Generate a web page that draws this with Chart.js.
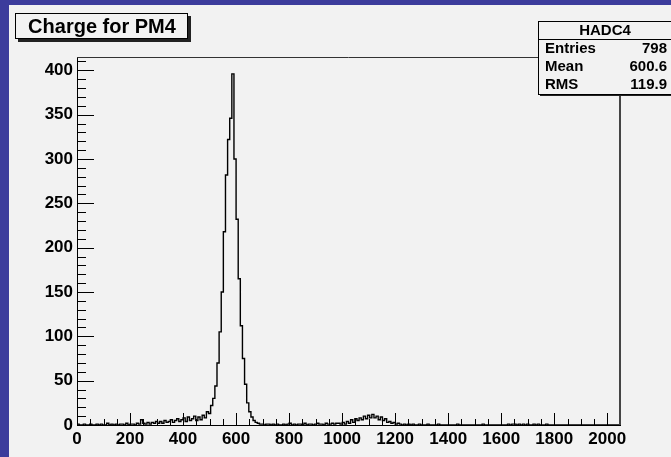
<!DOCTYPE html>
<html>
<head>
<meta charset="utf-8">
<script src="https://cdn.jsdelivr.net/npm/chart.js@4/dist/chart.umd.min.js"></script>
<style>
  html, body { margin: 0; padding: 0; background: #3c3c9c; }
  #myChart { display: block; }
</style>
</head>
<body>
<canvas id="myChart" width="671" height="457"></canvas>
<script>
// histogram HADC4, bins of 8 ADC channels from 0 to 2048
const binWidth = 8;
const xMax = 2048;
const counts = [
  // 0 - 232
  0,1,0,0,1,0,0,1,0,0, 1,0,1,0,0,2,0,1,0,1, 0,1,1,0,2,0,1,1,0,2,
  // 240 - 312
  1,6,2,1,3,1,3,2,4,2,
  // 320 - 392
  4,2,5,3,4,6,3,5,7,4,
  // 400 - 472
  6,8,4,9,5,7,10,5,9,6,
  // 480 - 696 (main peak)
  11,8,15,13,22,30,44,70,105,150, 218,282,322,346,396,300,232,165,112,75,
  46,25,15,9,5,3,2,1,
  // 704 - 992
  1,0,1,1,0,1,0,1,0,0, 1,0,1,2,0,1,0,1,1,0, 2,0,1,1,0,1,2,1,1,0, 2,1,1,2,1,2,2,
  // 1000 - 1256 (second bump)
  1,3,1,4,2,6,3,7,5,8, 6,10,7,11,8,12,8,10,6,9, 5,7,3,4,2,3,1,2,1,0, 1,0,1,
  // 1264 - 2040
  0,1,0,0,1,0,0,0,1,0, 0,0,0,1,0,0,0,0,0,0, 0,0,1,0,0,0,0,0,0,0,
  0,0,0,0,1,0,0,0,0,0, 0,0,0,0,0,0,1,0,1,1, 0,1,0,1,0,1,0,0,1,0,
  1,0,0,0,1,0,0,0,0,0, 0,0,0,0,0,0,0,0,0,0, 0,0,0,0,0,0,0,0,0,0,
  0,0,0,0,0,0,0,0
];
const xTicks = [0, 200, 400, 600, 800, 1000, 1200, 1400, 1600, 1800, 2000];
const yTicks = [0, 50, 100, 150, 200, 250, 300, 350, 400];
const yMax = 415;
const xMinorStep = 50;
const yMinorStep = 10;

const histTitle = "Charge for PM4";
const statsName = "HADC4";
const statsLabels = ["Entries", "Mean", "RMS"];
const statsValues = ["798", "600.6", "119.9"];

const FONT = "'Liberation Sans', Arial, Helvetica, sans-serif";

let points = counts.map((c, i) => ({ x: i * binWidth, y: c }));
points.push({ x: xMax, y: counts[counts.length - 1] });

// pad background: blue border + light gray pad
const padBackground = {
  id: 'padBackground',
  beforeDraw(chart) {
    const ctx = chart.ctx;
    ctx.save();
    ctx.fillStyle = '#3c3c9c';
    ctx.fillRect(0, 0, chart.width, chart.height);
    ctx.fillStyle = '#f2f2f2';
    ctx.fillRect(9, 5, chart.width - 9, chart.height - 5);
    ctx.restore();
  }
};

// ROOT style frame, inner ticks, title and stats boxes
const rootDecor = {
  id: 'rootDecor',
  afterDraw(chart) {
    const ctx = chart.ctx;
    const a = chart.chartArea;
    const xs = chart.scales.x;
    const ys = chart.scales.y;
    ctx.save();

    // frame top + right
    ctx.strokeStyle = '#333';
    ctx.lineWidth = 1;
    ctx.beginPath();
    ctx.moveTo(a.left, a.top + 0.5);
    ctx.lineTo(a.right, a.top + 0.5);
    ctx.stroke();
    ctx.lineWidth = 2;
    ctx.strokeStyle = '#444';
    ctx.beginPath();
    ctx.moveTo(a.right, a.top);
    ctx.lineTo(a.right, a.bottom);
    ctx.stroke();

    // x ticks (inside, pointing up)
    ctx.strokeStyle = '#000';
    ctx.lineWidth = 1;
    ctx.beginPath();
    for (let v = 0; v <= xMax; v += xMinorStep) {
      const px = Math.round(xs.getPixelForValue(v)) + 0.5;
      const len = (v % 200 === 0) ? 12 : 6;
      ctx.moveTo(px, a.bottom);
      ctx.lineTo(px, a.bottom - len);
    }
    // y ticks (inside, pointing right)
    for (let v = 0; v <= yMax; v += yMinorStep) {
      const py = Math.round(ys.getPixelForValue(v)) + 0.5;
      const len = (v % 50 === 0) ? 17 : 9;
      ctx.moveTo(a.left, py);
      ctx.lineTo(a.left + len, py);
    }
    ctx.stroke();

    // title pave
    ctx.fillStyle = '#222';
    ctx.fillRect(18, 16, 173, 26);
    ctx.fillStyle = '#f2f2f2';
    ctx.fillRect(15, 13, 173, 26);
    ctx.strokeStyle = '#000';
    ctx.lineWidth = 1;
    ctx.strokeRect(15.5, 13.5, 172, 25);
    ctx.fillStyle = '#000';
    ctx.font = 'bold 20px ' + FONT;
    ctx.textAlign = 'center';
    ctx.textBaseline = 'middle';
    ctx.fillText(histTitle, 102, 27);

    // stats box
    const bx = 538, by = 21, bw = 140, bh = 73;
    ctx.fillStyle = '#222';
    ctx.fillRect(bx + 2, by + 2, bw, bh);
    ctx.fillStyle = '#f2f2f2';
    ctx.fillRect(bx, by, bw, bh);
    ctx.strokeStyle = '#000';
    ctx.strokeRect(bx + 0.5, by + 0.5, bw, bh);
    ctx.beginPath();
    ctx.moveTo(bx, 39.5);
    ctx.lineTo(bx + bw, 39.5);
    ctx.stroke();
    ctx.fillStyle = '#000';
    ctx.font = 'bold 15px ' + FONT;
    ctx.textAlign = 'center';
    ctx.fillText(statsName, 605, 31);
    const rowsY = [49, 67, 85];
    statsLabels.forEach((lab, i) => {
      ctx.textAlign = 'left';
      ctx.fillText(lab, 545, rowsY[i]);
      ctx.textAlign = 'right';
      ctx.fillText(statsValues[i], 667, rowsY[i]);
    });

    ctx.restore();
  }
};

let ctx = document.getElementById('myChart').getContext('2d');
let chart = new Chart(ctx, {
  type: 'line',
  data: {
    datasets: [{
      data: points,
      borderColor: '#000',
      borderWidth: 1.4,
      pointRadius: 0,
      fill: false,
      stepped: 'after',
      tension: 0
    }]
  },
  options: {
    responsive: false,
    animation: false,
    events: [],
    layout: { padding: { left: 0, top: 57, right: 51, bottom: 0 } },
    plugins: {
      legend: { display: false },
      title: { display: false },
      tooltip: { enabled: false }
    },
    scales: {
      x: {
        type: 'linear',
        min: 0,
        max: xMax,
        afterFit: (s) => { s.height = 32; },
        afterBuildTicks: (s) => { s.ticks = xTicks.map(v => ({ value: v })); },
        grid: { drawOnChartArea: false, drawTicks: false },
        border: { color: '#000', width: 1 },
        ticks: {
          color: '#000',
          padding: 4,
          maxRotation: 0,
          autoSkip: false,
          callback: (v) => String(v),
          font: { family: FONT, size: 17, weight: 'bold' }
        }
      },
      y: {
        type: 'linear',
        min: 0,
        max: yMax,
        afterFit: (s) => { s.width = 77; },
        afterBuildTicks: (s) => { s.ticks = yTicks.map(v => ({ value: v })); },
        grid: { drawOnChartArea: false, drawTicks: false },
        border: { color: '#000', width: 1 },
        ticks: {
          color: '#000',
          padding: 4,
          autoSkip: false,
          callback: (v) => String(v),
          font: { family: FONT, size: 17, weight: 'bold' }
        }
      }
    }
  },
  plugins: [padBackground, rootDecor]
});
</script>
</body>
</html>
